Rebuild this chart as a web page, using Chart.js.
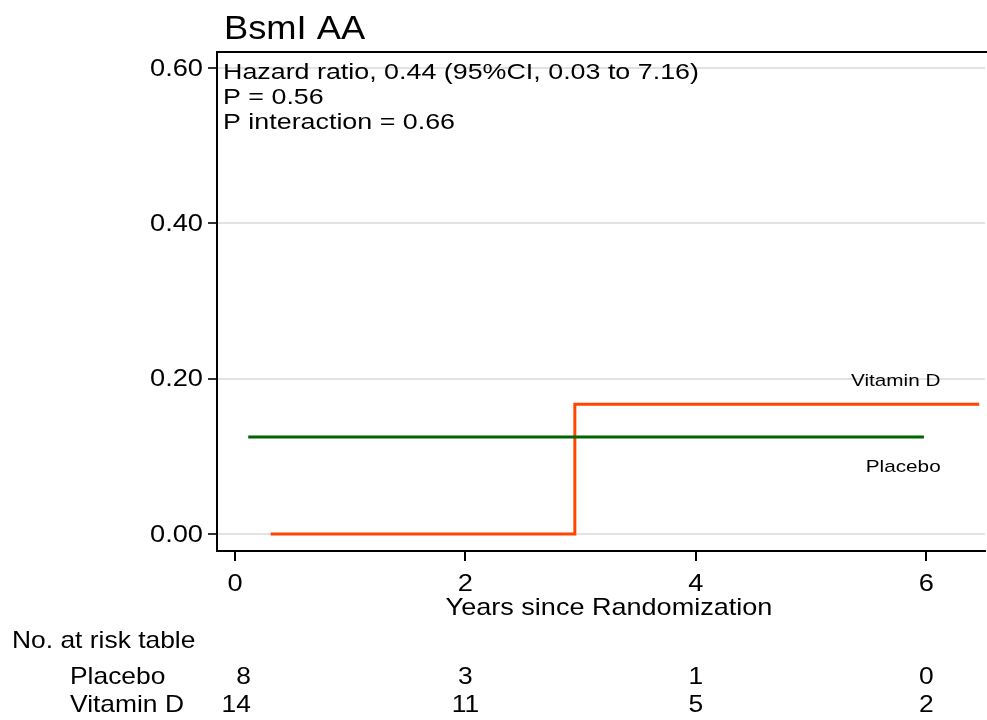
<!DOCTYPE html>
<html>
<head>
<meta charset="utf-8">
<style>
  html, body { margin: 0; padding: 0; background: #fff; }
</style>
</head>
<body>
<canvas id="myChart" width="987" height="720"></canvas>
<script src="https://cdn.jsdelivr.net/npm/chart.js@4"></script>
<script>
// step curves
var placeboX = [0.115, 5.98];
var placeboY = [0.125, 0.125];
var vitaminX = [0.31, 2.95, 6.46];
var vitaminY = [0, 0.167, 0.167];

var yTicks = [0, 0.2, 0.4, 0.6];
var xTicks = [0, 2, 4, 6];

var riskGroups = ['Placebo', 'Vitamin D'];
var riskPlacebo = [8, 3, 1, 0];
var riskVitamin = [14, 11, 5, 2];

var titleText = 'BsmI AA';
var noteLines = ['Hazard ratio, 0.44 (95%CI, 0.03 to 7.16)', 'P = 0.56', 'P interaction = 0.66'];

var FONT = '"Liberation Sans", Arial, sans-serif';

function toPoints(xs, ys) {
  return xs.map(function (x, i) { return { x: x, y: ys[i] }; });
}

// the original text is set a bit wider than Arial, so stretch it around its anchor
function wideText(c, text, x, y, align, sx) {
  c.save();
  c.translate(x, y);
  c.scale(sx, 1);
  c.textAlign = align;
  c.fillText(text, 0, 0);
  c.restore();
}

var extras = {
  id: 'extras',
  afterDraw: function (chart) {
    var c = chart.ctx;
    var a = chart.chartArea;
    var xs = chart.scales.x, ys = chart.scales.y;
    c.save();
    // top frame line
    c.strokeStyle = '#000';
    c.lineWidth = 2;
    c.beginPath();
    c.moveTo(a.left - 1, a.top);
    c.lineTo(a.right + 2, a.top);
    c.stroke();

    c.fillStyle = '#000';
    c.textBaseline = 'alphabetic';
    c.font = '33px ' + FONT;
    wideText(c, titleText, 224, 39, 'left', 1.10);

    c.font = '22px ' + FONT;
    noteLines.forEach(function (t, i) { wideText(c, t, 223, 79 + i * 25, 'left', 1.22); });

    // tick labels
    c.font = '24px ' + FONT;
    c.textBaseline = 'middle';
    yTicks.forEach(function (v) {
      wideText(c, v.toFixed(2), 203, ys.getPixelForValue(v) + 1, 'right', 1.135);
    });
    xTicks.forEach(function (v) {
      wideText(c, String(v), xs.getPixelForValue(v), 584, 'center', 1.135);
    });
    c.textBaseline = 'alphabetic';

    // axis title
    wideText(c, 'Years since Randomization', 609, 615, 'center', 1.127);

    // curve labels
    c.font = '17px ' + FONT;
    wideText(c, 'Vitamin D', xs.getPixelForValue(5.735), ys.getPixelForValue(0.198) + 6, 'center', 1.22);
    wideText(c, 'Placebo', xs.getPixelForValue(5.8), ys.getPixelForValue(0.0875) + 6, 'center', 1.22);

    // number at risk table
    c.font = '24px ' + FONT;
    wideText(c, 'No. at risk table', 12, 648, 'left', 1.10);
    wideText(c, riskGroups[0], 70, 684, 'left', 1.10);
    wideText(c, riskGroups[1], 70, 712, 'left', 1.10);
    [riskPlacebo, riskVitamin].forEach(function (row, r) {
      var y = 684 + r * 28;
      row.forEach(function (n, i) {
        var px = xs.getPixelForValue(xTicks[i]);
        if (i === 0) {
          wideText(c, String(n), px + 16, y, 'right', 1.10);
        } else {
          wideText(c, String(n), px, y, 'center', 1.10);
        }
      });
    });
    c.restore();
  }
};

var ctx = document.getElementById('myChart').getContext('2d');
var myChart = new Chart(ctx, {
  type: 'line',
  data: {
    datasets: [{
      label: 'Placebo',
      data: toPoints(placeboX, placeboY),
      borderColor: '#006400',
      borderWidth: 3,
      pointRadius: 0,
      stepped: true,
      fill: false
    }, {
      label: 'Vitamin D',
      data: toPoints(vitaminX, vitaminY),
      borderColor: '#ff4500',
      borderWidth: 3,
      pointRadius: 0,
      stepped: true,
      fill: false
    }]
  },
  plugins: [extras],
  options: {
    responsive: false,
    devicePixelRatio: 1,
    animation: false,
    layout: { padding: { left: 0, right: 2, top: 52, bottom: 0 } },
    plugins: {
      legend: { display: false },
      title: { display: false },
      tooltip: { enabled: false }
    },
    scales: {
      x: {
        type: 'linear',
        min: -0.156,
        max: 6.51,
        afterFit: function (s) { s.height = 169; },
        afterBuildTicks: function (s) { s.ticks = xTicks.map(function (v) { return { value: v }; }); },
        border: { display: true, color: '#000', width: 2 },
        grid: { drawOnChartArea: false, tickLength: 10, tickColor: '#000', lineWidth: 2 },
        ticks: { display: false }
      },
      y: {
        type: 'linear',
        min: -0.0219,
        max: 0.6206,
        afterFit: function (s) { s.width = 217; },
        afterBuildTicks: function (s) { s.ticks = yTicks.map(function (v) { return { value: v }; }); },
        border: { display: true, color: '#000', width: 2 },
        grid: { color: '#e2e2e2', lineWidth: 2, tickLength: 9, tickColor: '#333' },
        ticks: { display: false }
      }
    }
  }
});
</script>
</body>
</html>
